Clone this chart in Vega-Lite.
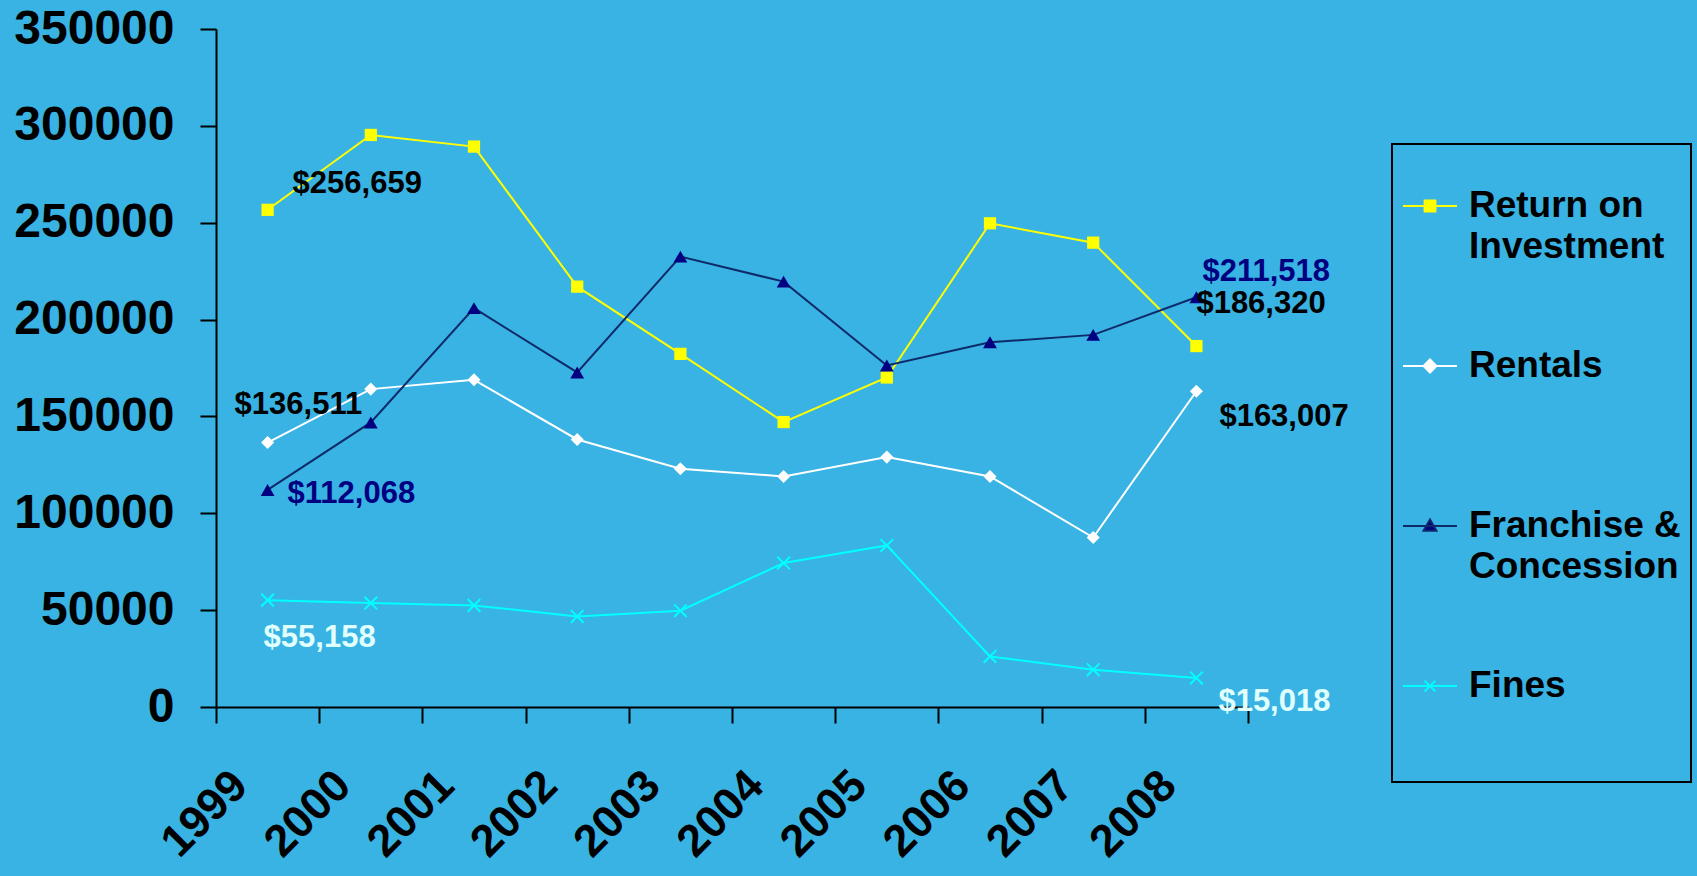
{
  "$schema": "https://vega.github.io/schema/vega-lite/v6.json",
  "width": 1032,
  "height": 678,
  "autosize": {"type": "none"},
  "padding": {"left": 216, "top": 29, "right": 449, "bottom": 169},
  "background": "#38B3E3",
  "config": {"view": {"stroke": null}, "font": "Liberation Sans"},
  "data": {
    "values": [
      {"year": "1999", "series": "Return on Investment", "value": 256659},
      {"year": "2000", "series": "Return on Investment", "value": 295300},
      {"year": "2001", "series": "Return on Investment", "value": 289300},
      {"year": "2002", "series": "Return on Investment", "value": 217000},
      {"year": "2003", "series": "Return on Investment", "value": 182300},
      {"year": "2004", "series": "Return on Investment", "value": 147100},
      {"year": "2005", "series": "Return on Investment", "value": 170100},
      {"year": "2006", "series": "Return on Investment", "value": 249700},
      {"year": "2007", "series": "Return on Investment", "value": 239700},
      {"year": "2008", "series": "Return on Investment", "value": 186320},
      {"year": "1999", "series": "Rentals", "value": 136511},
      {"year": "2000", "series": "Rentals", "value": 164100},
      {"year": "2001", "series": "Rentals", "value": 168900},
      {"year": "2002", "series": "Rentals", "value": 138100},
      {"year": "2003", "series": "Rentals", "value": 123000},
      {"year": "2004", "series": "Rentals", "value": 119000},
      {"year": "2005", "series": "Rentals", "value": 129000},
      {"year": "2006", "series": "Rentals", "value": 119000},
      {"year": "2007", "series": "Rentals", "value": 87500},
      {"year": "2008", "series": "Rentals", "value": 163007},
      {"year": "1999", "series": "Franchise & Concession", "value": 112068},
      {"year": "2000", "series": "Franchise & Concession", "value": 146900},
      {"year": "2001", "series": "Franchise & Concession", "value": 205900},
      {"year": "2002", "series": "Franchise & Concession", "value": 172700},
      {"year": "2003", "series": "Franchise & Concession", "value": 232500},
      {"year": "2004", "series": "Franchise & Concession", "value": 219600},
      {"year": "2005", "series": "Franchise & Concession", "value": 176300},
      {"year": "2006", "series": "Franchise & Concession", "value": 188300},
      {"year": "2007", "series": "Franchise & Concession", "value": 192100},
      {"year": "2008", "series": "Franchise & Concession", "value": 211518},
      {"year": "1999", "series": "Fines", "value": 55158},
      {"year": "2000", "series": "Fines", "value": 53650},
      {"year": "2001", "series": "Fines", "value": 52450},
      {"year": "2002", "series": "Fines", "value": 46750},
      {"year": "2003", "series": "Fines", "value": 49700},
      {"year": "2004", "series": "Fines", "value": 74300},
      {"year": "2005", "series": "Fines", "value": 83400},
      {"year": "2006", "series": "Fines", "value": 26100},
      {"year": "2007", "series": "Fines", "value": 19250},
      {"year": "2008", "series": "Fines", "value": 15018}
    ]
  },
  "encoding": {
    "x": {
      "field": "year",
      "type": "ordinal",
      "bandPosition": 0.5,
      "scale": {"type": "band", "paddingInner": 0, "paddingOuter": 0},
      "axis": {
        "title": null,
        "labelAngle": -45,
        "labelAlign": "right",
        "labelBaseline": "middle",
        "labelFont": "Liberation Sans",
        "labelFontSize": 45,
        "labelFontWeight": "bold",
        "labelColor": "black",
        "labelOffset": -28,
        "labelPadding": 55,
        "labelOverlap": false,
        "tickBand": "extent",
        "tickSize": 16,
        "tickWidth": 2,
        "tickColor": "black",
        "domainColor": "black",
        "domainWidth": 2,
        "grid": false
      }
    },
    "y": {
      "field": "value",
      "type": "quantitative",
      "scale": {"domain": [0, 350000], "nice": false},
      "axis": {
        "title": null,
        "values": [0, 50000, 100000, 150000, 200000, 250000, 300000, 350000],
        "format": "d",
        "labelFont": "Liberation Sans",
        "labelFontSize": 48,
        "labelFontWeight": "bold",
        "labelColor": "black",
        "labelPadding": 26,
        "labelOverlap": false,
        "labelFlush": false,
        "labelBaseline": "middle",
        "tickSize": 16,
        "tickWidth": 2,
        "tickColor": "black",
        "domainColor": "black",
        "domainWidth": 2,
        "grid": false
      }
    }
  },
  "layer": [
    {
      "mark": {"type": "line", "strokeWidth": 2},
      "encoding": {
        "color": {
          "field": "series",
          "type": "nominal",
          "scale": {
            "domain": ["Return on Investment", "Rentals", "Franchise & Concession", "Fines"],
            "range": ["#FFFF00", "#FFFFFF", "#0E2A6A", "#00FFFF"]
          },
          "legend": {
            "orient": "none",
            "legendX": 1176,
            "legendY": 115,
            "title": " ",
            "titleFontSize": 20,
            "titlePadding": 4,
            "padding": 10,
            "strokeColor": "black",
            "labelFont": "Liberation Sans",
            "labelFontSize": 37,
            "labelFontWeight": "bold",
            "labelColor": "black",
            "labelLimit": 600,
            "labelOffset": 11,
            "symbolSize": 2916,
            "symbolStrokeWidth": 2,
            "rowPadding": 73,
            "labelExpr": "datum.value == 'Return on Investment' ? ['Return on', 'Investment'] : datum.value == 'Franchise & Concession' ? ['Franchise &', 'Concession'] : [datum.value, ' ']",
            "encode": {
              "legend": {"update": {"strokeWidth": {"value": 2}}},
              "symbols": {
                "update": {
                  "shape": {"signal": "datum.value == 'Return on Investment' ? 'M-1,0H1M-0.2,-0.2H0.2V0.2H-0.2Z' : datum.value == 'Rentals' ? 'M-1,0H1M-0.24,0L0,-0.24L0.24,0L0,0.24Z' : datum.value == 'Franchise & Concession' ? 'M-1,0H1M-0.24,0.18L0,-0.24L0.24,0.18Z' : 'M-1,0H1M-0.2,-0.2L0.2,0.2M-0.2,0.2L0.2,-0.2'"},
                  "fill": {"signal": "datum.value == 'Return on Investment' ? '#FFFF00' : datum.value == 'Rentals' ? '#FFFFFF' : datum.value == 'Franchise & Concession' ? '#000080' : 'transparent'"},
                  "stroke": {"signal": "datum.value == 'Return on Investment' ? '#FFFF00' : datum.value == 'Rentals' ? '#FFFFFF' : datum.value == 'Franchise & Concession' ? '#0E2A6A' : '#00FFFF'"},
                  "strokeWidth": {"value": 2},
                  "opacity": {"value": 1}
                }
              },
              "labels": {"update": {"lineHeight": {"signal": "datum.value == 'Fines' ? 68 : 41"}}}
            }
          }
        }
      }
    },
    {
      "transform": [{"filter": "datum.series == 'Return on Investment'"}],
      "mark": {"type": "point", "shape": "square", "filled": true, "size": 150, "color": "#FFFF00", "opacity": 1}
    },
    {
      "transform": [{"filter": "datum.series == 'Rentals'"}],
      "mark": {"type": "point", "shape": "diamond", "filled": true, "size": 170, "color": "#FFFFFF", "opacity": 1}
    },
    {
      "transform": [{"filter": "datum.series == 'Franchise & Concession'"}],
      "mark": {"type": "point", "shape": "triangle-up", "filled": true, "size": 190, "color": "#000080", "opacity": 1}
    },
    {
      "transform": [{"filter": "datum.series == 'Fines'"}],
      "mark": {"type": "point", "shape": "M-1,-1L1,1M-1,1L1,-1", "filled": false, "size": 160, "strokeWidth": 2, "color": "#00FFFF", "opacity": 1}
    },
    {
      "transform": [{"filter": "datum.series == 'Return on Investment' && datum.year == '1999'"}],
      "mark": {"type": "text", "align": "left", "baseline": "middle", "dx": 25, "dy": -26, "fontSize": 31, "fontWeight": "bold", "font": "Liberation Sans", "color": "black"},
      "encoding": {"text": {"field": "value", "type": "quantitative", "format": "$,.0f"}}
    },
    {
      "transform": [{"filter": "datum.series == 'Rentals' && datum.year == '1999'"}],
      "mark": {"type": "text", "align": "left", "baseline": "middle", "dx": -33, "dy": -38, "fontSize": 31, "fontWeight": "bold", "font": "Liberation Sans", "color": "black"},
      "encoding": {"text": {"field": "value", "type": "quantitative", "format": "$,.0f"}}
    },
    {
      "transform": [{"filter": "datum.series == 'Franchise & Concession' && datum.year == '1999'"}],
      "mark": {"type": "text", "align": "left", "baseline": "middle", "dx": 20, "dy": 4, "fontSize": 31, "fontWeight": "bold", "font": "Liberation Sans", "color": "#000080"},
      "encoding": {"text": {"field": "value", "type": "quantitative", "format": "$,.0f"}}
    },
    {
      "transform": [{"filter": "datum.series == 'Fines' && datum.year == '1999'"}],
      "mark": {"type": "text", "align": "left", "baseline": "middle", "dx": -4, "dy": 38, "fontSize": 31, "fontWeight": "bold", "font": "Liberation Sans", "color": "#E0FFFF"},
      "encoding": {"text": {"field": "value", "type": "quantitative", "format": "$,.0f"}}
    },
    {
      "transform": [{"filter": "datum.series == 'Franchise & Concession' && datum.year == '2008'"}],
      "mark": {"type": "text", "align": "left", "baseline": "middle", "dx": 6, "dy": -25, "fontSize": 31, "fontWeight": "bold", "font": "Liberation Sans", "color": "#000080"},
      "encoding": {"text": {"field": "value", "type": "quantitative", "format": "$,.0f"}}
    },
    {
      "transform": [{"filter": "datum.series == 'Return on Investment' && datum.year == '2008'"}],
      "mark": {"type": "text", "align": "left", "baseline": "middle", "dx": 0, "dy": -42, "fontSize": 31, "fontWeight": "bold", "font": "Liberation Sans", "color": "black"},
      "encoding": {"text": {"field": "value", "type": "quantitative", "format": "$,.0f"}}
    },
    {
      "transform": [{"filter": "datum.series == 'Rentals' && datum.year == '2008'"}],
      "mark": {"type": "text", "align": "left", "baseline": "middle", "dx": 23, "dy": 26, "fontSize": 31, "fontWeight": "bold", "font": "Liberation Sans", "color": "black"},
      "encoding": {"text": {"field": "value", "type": "quantitative", "format": "$,.0f"}}
    },
    {
      "transform": [{"filter": "datum.series == 'Fines' && datum.year == '2008'"}],
      "mark": {"type": "text", "align": "left", "baseline": "middle", "dx": 22, "dy": 24, "fontSize": 31, "fontWeight": "bold", "font": "Liberation Sans", "color": "#E0FFFF"},
      "encoding": {"text": {"field": "value", "type": "quantitative", "format": "$,.0f"}}
    }
  ]
}
